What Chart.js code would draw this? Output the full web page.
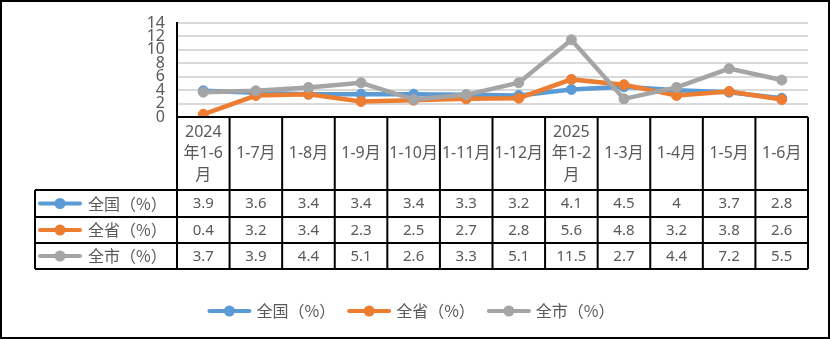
<!DOCTYPE html>
<html lang="zh-CN">
<head>
<meta charset="UTF-8">
<title>全国 全省 全市 累计增速</title>
<script src="https://cdn.jsdelivr.net/npm/chart.js"></script>
<style>
  body { margin: 0; background: #fff; }
</style>
</head>
<body>
<canvas id="lineChart" width="831" height="340"></canvas>
<script>
// categories (multi-line where the table header wraps)
const categories = [['2024', '年1-6', '月'], '1-7月', '1-8月', '1-9月', '1-10月', '1-11月', '1-12月',
                    ['2025', '年1-2', '月'], '1-3月', '1-4月', '1-5月', '1-6月'];
const seriesNames = ['全国（%）', '全省（%）', '全市（%）'];
const nationValues   = [3.9, 3.6, 3.4, 3.4, 3.4, 3.3, 3.2, 4.1, 4.5, 4, 3.7, 2.8];
const provinceValues = [0.4, 3.2, 3.4, 2.3, 2.5, 2.7, 2.8, 5.6, 4.8, 3.2, 3.8, 2.6];
const cityValues     = [3.7, 3.9, 4.4, 5.1, 2.6, 3.3, 5.1, 11.5, 2.7, 4.4, 7.2, 5.5];
const yTicks = [0, 2, 4, 6, 8, 10, 12, 14];

const TEXT = '#595959';
const FONT = '"Noto Sans", "Noto Sans CJK SC", sans-serif';
const CJK_FONT = '"Noto Sans CJK SC", sans-serif';

function drawKey(ctx, x, y, color) {
    ctx.save();
    ctx.strokeStyle = color;
    ctx.lineWidth = 4;
    ctx.lineCap = 'round';
    ctx.beginPath();
    ctx.moveTo(x + 2, y);
    ctx.lineTo(x + 42, y);
    ctx.stroke();
    ctx.fillStyle = color;
    ctx.beginPath();
    ctx.arc(x + 22, y, 5.5, 0, Math.PI * 2);
    ctx.fill();
    ctx.restore();
}

const tablePlugin = {
    id: 'dataTable',
    beforeDraw(chart) {
        const ctx = chart.ctx;
        ctx.save();
        ctx.fillStyle = '#fff';
        ctx.fillRect(0, 0, chart.width, chart.height);
        ctx.restore();
    },
    afterDraw(chart) {
        const ctx = chart.ctx;
        const xs = chart.scales.x;
        const area = chart.chartArea;
        const colW = (area.right - area.left) / categories.length;
        const headTop = area.bottom;
        const headBottom = 190;
        const rowLines = [190, 217, 243, 269];
        const tableLeft = 35;
        const sets = chart.data.datasets;

        ctx.save();
        // header text
        ctx.fillStyle = TEXT;
        ctx.textAlign = 'center';
        ctx.textBaseline = 'middle';
        ctx.font = '16px ' + FONT;
        const headMid = (headTop + headBottom) / 2;
        categories.forEach((c, i) => {
            const lines = Array.isArray(c) ? c : [c];
            const cx = xs.getPixelForValue(i);
            const lh = 21.5;
            lines.forEach((t, k) => {
                ctx.fillText(t, cx, headMid + (k - (lines.length - 1) / 2) * lh);
            });
        });

        // data rows
        sets.forEach((ds, r) => {
            const cy = (rowLines[r] + rowLines[r + 1]) / 2;
            ctx.font = '15px ' + FONT;
            ds.data.forEach((v, i) => {
                ctx.fillText(String(v), xs.getPixelForValue(i), cy + 0.5);
            });
            drawKey(ctx, 38, cy, ds.borderColor);
            ctx.textAlign = 'left';
            ctx.font = '16px ' + CJK_FONT;
            ctx.fillText(ds.label, 88, cy);
            ctx.textAlign = 'center';
        });

        // grid of the table
        ctx.strokeStyle = '#000';
        ctx.lineWidth = 2;
        ctx.beginPath();
        ctx.moveTo(area.left, headTop);
        ctx.lineTo(area.right, headTop);
        rowLines.forEach(y => {
            ctx.moveTo(tableLeft, y);
            ctx.lineTo(area.right, y);
        });
        for (let i = 0; i <= categories.length; i++) {
            const x = area.left + i * colW;
            ctx.moveTo(x, i === 0 ? area.top : headTop);
            ctx.lineTo(x, rowLines[rowLines.length - 1]);
        }
        ctx.moveTo(tableLeft, rowLines[0]);
        ctx.lineTo(tableLeft, rowLines[rowLines.length - 1]);
        ctx.stroke();

        // legend
        ctx.font = '16px ' + CJK_FONT;
        ctx.textAlign = 'left';
        const widths = sets.map(ds => 49 + ctx.measureText(ds.label).width);
        const gap = 12;
        const total = widths.reduce((a, b) => a + b, 0) + gap * (sets.length - 1);
        let lx = 411 - total / 2;
        const ly = 311;
        sets.forEach((ds, r) => {
            drawKey(ctx, lx, ly, ds.borderColor);
            ctx.fillText(ds.label, lx + 49, ly);
            lx += widths[r] + gap;
        });

        // outer frame
        ctx.lineWidth = 2;
        ctx.strokeRect(1, 1, chart.width - 3, chart.height - 3);
        ctx.restore();
    }
};

function series(label, data, color, order) {
    return {
        label: label,
        data: data,
        borderColor: color,
        backgroundColor: color,
        pointBackgroundColor: color,
        pointBorderColor: color,
        borderWidth: 4.5,
        pointRadius: 5,
        pointBorderWidth: 1,
        tension: 0,
        order: order
    };
}

new Chart(document.getElementById('lineChart').getContext('2d'), {
    type: 'line',
    data: {
        labels: categories,
        datasets: [
            series(seriesNames[0], nationValues, '#5B9BD5', 3),
            series(seriesNames[1], provinceValues, '#ED7D31', 2),
            series(seriesNames[2], cityValues, '#A5A5A5', 1)
        ]
    },
    options: {
        responsive: false,
        animation: false,
        layout: { padding: { left: 137, right: 23, top: 23, bottom: 223 } },
        plugins: { legend: { display: false }, tooltip: { enabled: false } },
        scales: {
            x: { display: false, offset: true },
            y: {
                min: 0,
                max: 14,
                afterFit: s => { s.width = 40; },
                afterBuildTicks: s => { s.ticks = yTicks.map(v => ({ value: v })); },
                ticks: { autoSkip: false, color: TEXT, padding: 12, font: { family: FONT, size: 16 } },
                grid: { color: '#d9d9d9', lineWidth: 2, drawTicks: false },
                border: { color: '#000', width: 2 }
            }
        }
    },
    plugins: [tablePlugin]
});
</script>
</body>
</html>
